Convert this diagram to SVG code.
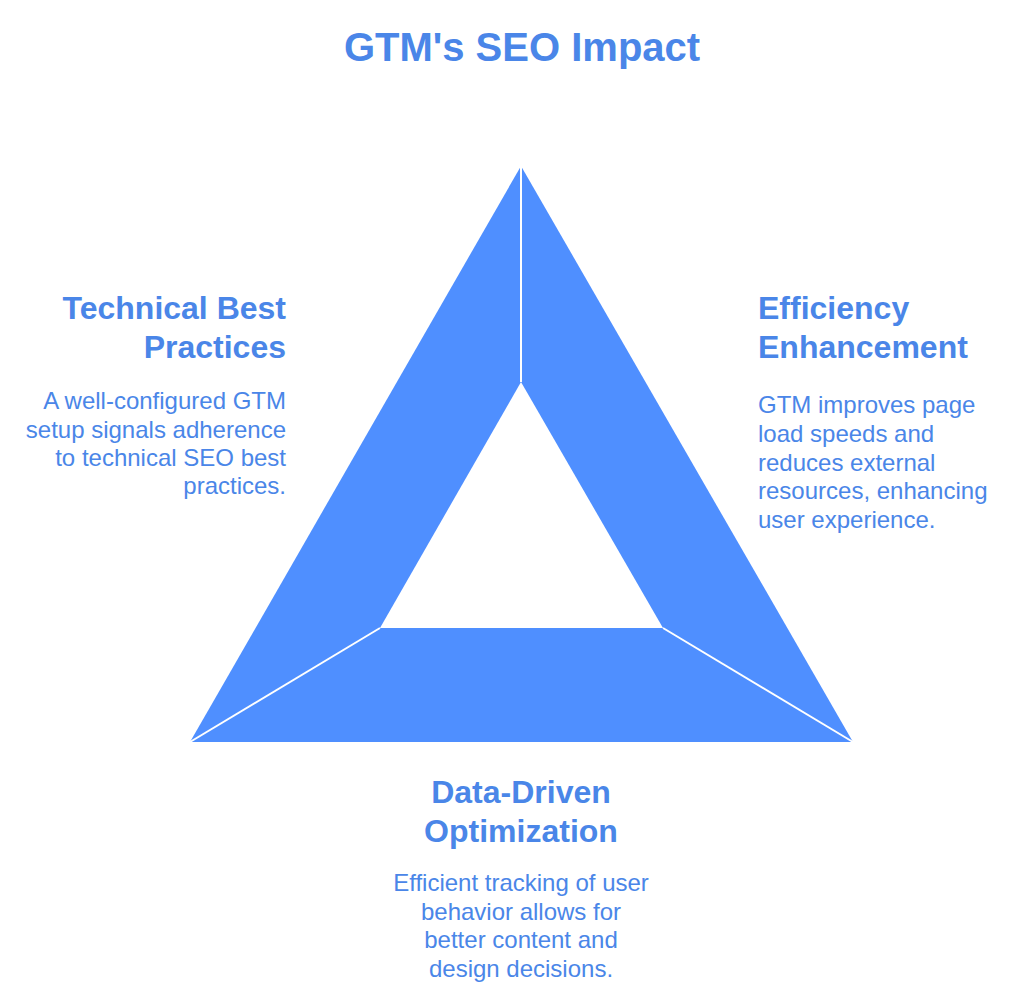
<svg xmlns="http://www.w3.org/2000/svg" width="1023" height="1005" viewBox="0 0 1023 1005">
<style>
text{font-family:"Liberation Sans",Arial,Helvetica,sans-serif;fill:#4a86e8}
.title{font-size:40px;font-weight:bold}
.head{font-size:32px;font-weight:bold}
.body{font-size:24px}
.seg{fill:#4f8fff}
.sep{stroke:#ffffff;stroke-width:2;fill:none}
</style>
<rect width="1023" height="1005" fill="#ffffff"/>
<text class="title" x="522" y="61" text-anchor="middle">GTM's SEO Impact</text>
<g id="triangle">
<polygon id="seg-left" class="seg" points="521,166 521,382 380,628 190,742"/>
<polygon id="seg-right" class="seg" points="521,166 853,742 663,628 521,382"/>
<polygon id="seg-bottom" class="seg" points="190,742 380,628 663,628 853,742"/>
</g>
<g id="connectors">
<line class="sep" x1="521" y1="166" x2="521" y2="382"/>
<line class="sep" x1="190" y1="742" x2="380" y2="628"/>
<line class="sep" x1="853" y1="742" x2="663" y2="628"/>
</g>
<g id="technical" text-anchor="end">
<text class="head" x="286" y="319">Technical Best</text>
<text class="head" x="286" y="358">Practices</text>
<text class="body" x="286" y="409">A well-configured GTM</text>
<text class="body" x="286" y="438">setup signals adherence</text>
<text class="body" x="286" y="466">to technical SEO best</text>
<text class="body" x="286" y="494">practices.</text>
</g>
<g id="efficiency" text-anchor="start">
<text class="head" x="758" y="319">Efficiency</text>
<text class="head" x="758" y="358">Enhancement</text>
<text class="body" x="758" y="413">GTM improves page</text>
<text class="body" x="758" y="442">load speeds and</text>
<text class="body" x="758" y="471">reduces external</text>
<text class="body" x="758" y="499">resources, enhancing</text>
<text class="body" x="758" y="528">user experience.</text>
</g>
<g id="datadriven" text-anchor="middle">
<text class="head" x="521" y="803">Data-Driven</text>
<text class="head" x="521" y="842">Optimization</text>
<text class="body" x="521" y="891">Efficient tracking of user</text>
<text class="body" x="521" y="920">behavior allows for</text>
<text class="body" x="521" y="948">better content and</text>
<text class="body" x="521" y="977">design decisions.</text>
</g>
</svg>
